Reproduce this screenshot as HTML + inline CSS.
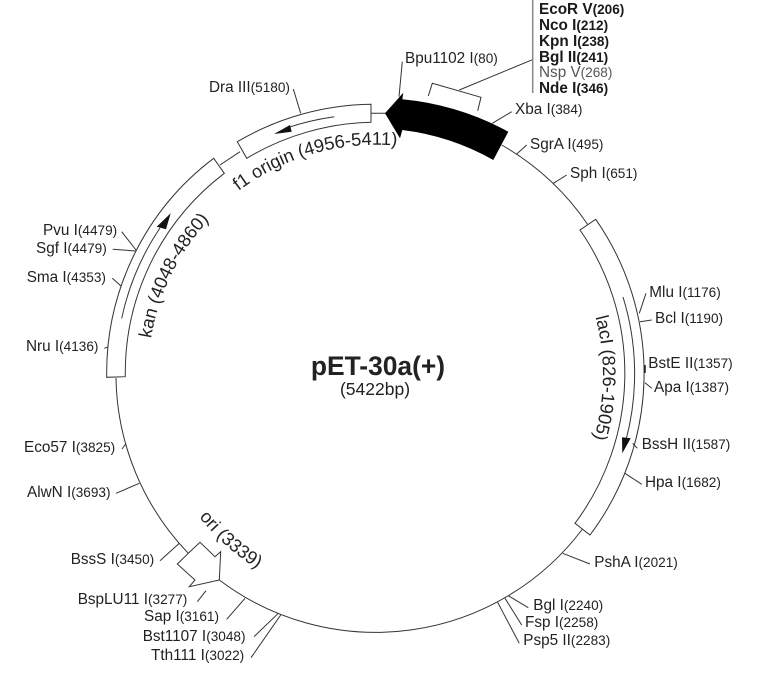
<!DOCTYPE html>
<html><head><meta charset="utf-8"><style>
html,body{margin:0;padding:0;background:#fff}
svg{display:block}
text{font-family:"Liberation Sans",Arial,sans-serif;fill:#222;font-size:15.3px}
tspan.n{font-size:13.6px}
.b{font-weight:bold;fill:#1a1a1a}
.l{stroke:#333;stroke-width:1;fill:none}
.c{font-size:18.3px}
</style></head><body>
<svg width="776" height="691" viewBox="0 0 776 691" xmlns="http://www.w3.org/2000/svg">
<defs>
<path id="pf1" d="M238.5 191A230 230 0 0 1 430 151"/>
<path id="pkan" d="M151 338.5A228 228 0 0 1 258 180"/>
<path id="plac" d="M595.5 317A227 227 0 0 1 577 480"/>
<path id="pori" d="M199 517A227 227 0 0 0 276 579"/>
</defs>
<!-- backbone -->
<path class="l" d="M116 378A259 259 0 0 0 188.3 553.3"/>
<path class="l" d="M219.3 580A259 259 0 0 0 582.5 529"/>
<path class="l" d="M501.7 145A261 261 0 0 1 587.8 224.6"/>
<path class="l" d="M220 165L240 151.7M371 113.3H386"/>
<!-- feature boxes -->
<path d="M237.3 141.7A271 271 0 0 1 371 104.3L371 122.3A252 252 0 0 0 246.7 158.3Z" fill="#fff" stroke="#333"/>
<path d="M106.7 377.3A269 269 0 0 1 213.7 158.3L224.3 173.3A251 251 0 0 0 125.3 376.7Z" fill="#fff" stroke="#333"/>
<path d="M595.7 219.3A269 269 0 0 1 590 535L575 523.3A251 251 0 0 0 580 230Z" fill="#fff" stroke="#333"/>
<!-- inner arrows -->
<path class="l" d="M334.3 116.7A259 259 0 0 0 285 128.5"/>
<path d="M274 134L290 125L291.7 131.7Z" fill="#111"/>
<path class="l" d="M121.7 318.3A259 259 0 0 1 160 228"/>
<path d="M170.7 213.3L156.7 226.7L166 229.3Z" fill="#111"/>
<path class="l" d="M623 297A259 259 0 0 1 626 440"/>
<path d="M622.3 453.3L622 437.3L630.7 438.3Z" fill="#111"/>
<!-- ori -->
<path d="M188.3 553.3L200 542.3L215 556.7L220.7 551.7L219.3 580L189.3 586.7L195 580L177.3 564Z" fill="#fff" stroke="#333"/>
<!-- black arrow -->
<path d="M385 113.3L403.3 92.7L402.3 99.3A277 277 0 0 1 508.3 131.7L493.3 160A245 245 0 0 0 402.3 130L400 138.3Z" fill="#000"/>
<!-- bracket -->
<path class="l" d="M428.3 96L432.3 83.3L481 97.3L477.7 110.7M459.3 90L533.3 59.3"/>
<path d="M532.7 0V93" stroke="#888" stroke-width="1.5" fill="none"/>
<!-- ticks -->
<path class="l" d="M399 96.7L402.3 61.7M492.3 123.3L511.7 111.7M516.7 154L526.7 145M553.3 183.3L566.7 175M300.7 113.3L293.3 89M136 250L121.7 231.7M136 251L112.7 249.3M121 286L112.3 278.3M104.3 348.3L108 347M122 449L126 443.5M116 493.3L139.3 483.3M160 560.7L179.3 543.3M197.3 601.7L206 590.7M226.7 619.3L245 598.3M254 636.7L278.3 613.3M251 657.7L280.7 615M562.7 553.3L590 564M508.3 595.7L528.3 607.7M505 598.3L521.7 625M497.3 601.7L519.3 643.3M625 473.3L641.7 484.3M632.7 443.3L637.3 448.3M645 382.7L651.7 388.3M640 321.7L651.7 320M639.3 313.3L646 293.3"/>
<path d="M645 365V373" stroke="#222" stroke-width="1.5"/>
<!-- labels -->
<text class="b" x="539" y="14">EcoR V<tspan class="n">(206)</tspan></text>
<text class="b" x="539" y="30">Nco I<tspan class="n">(212)</tspan></text>
<text class="b" x="539" y="46">Kpn I<tspan class="n">(238)</tspan></text>
<text class="b" x="539" y="62">Bgl II<tspan class="n">(241)</tspan></text>
<text x="539" y="77" style="fill:#555">Nsp V<tspan class="n">(268)</tspan></text>
<text class="b" x="539" y="93">Nde I<tspan class="n">(346)</tspan></text>
<text x="405" y="63">Bpu1102 I<tspan class="n">(80)</tspan></text>
<text x="515" y="114">Xba I<tspan class="n">(384)</tspan></text>
<text x="530" y="149">SgrA I<tspan class="n">(495)</tspan></text>
<text x="570" y="178">Sph I<tspan class="n">(651)</tspan></text>
<text x="649.3" y="297">Mlu I<tspan class="n">(1176)</tspan></text>
<text x="655" y="323">Bcl I<tspan class="n">(1190)</tspan></text>
<text x="648.3" y="368">BstE II<tspan class="n">(1357)</tspan></text>
<text x="654" y="392">Apa I<tspan class="n">(1387)</tspan></text>
<text x="641.7" y="449">BssH II<tspan class="n">(1587)</tspan></text>
<text x="645" y="487">Hpa I<tspan class="n">(1682)</tspan></text>
<text x="594.3" y="567">PshA I<tspan class="n">(2021)</tspan></text>
<text x="533.3" y="610">Bgl I<tspan class="n">(2240)</tspan></text>
<text x="525" y="627">Fsp I<tspan class="n">(2258)</tspan></text>
<text x="523.3" y="645">Psp5 II<tspan class="n">(2283)</tspan></text>
<text x="151" y="660">Tth111 I<tspan class="n">(3022)</tspan></text>
<text x="142.7" y="641">Bst1107 I<tspan class="n">(3048)</tspan></text>
<text x="144" y="621">Sap I<tspan class="n">(3161)</tspan></text>
<text x="77.7" y="604">BspLU11 I<tspan class="n">(3277)</tspan></text>
<text x="70.7" y="564">BssS I<tspan class="n">(3450)</tspan></text>
<text x="27" y="497">AlwN I<tspan class="n">(3693)</tspan></text>
<text x="24" y="452">Eco57 I<tspan class="n">(3825)</tspan></text>
<text x="26" y="351">Nru I<tspan class="n">(4136)</tspan></text>
<text x="26.7" y="282">Sma I<tspan class="n">(4353)</tspan></text>
<text x="36" y="253">Sgf I<tspan class="n">(4479)</tspan></text>
<text x="43" y="235">Pvu I<tspan class="n">(4479)</tspan></text>
<text x="209" y="92">Dra III<tspan class="n">(5180)</tspan></text>
<!-- curved labels -->
<text class="c"><textPath href="#pf1">f1 origin (4956-5411)</textPath></text>
<text class="c"><textPath href="#pkan">kan (4048-4860)</textPath></text>
<text class="c"><textPath href="#plac">lacI (826-1905)</textPath></text>
<text class="c"><textPath href="#pori">ori (3339)</textPath></text>
<!-- center -->
<text x="378" y="375" text-anchor="middle" style="font-size:26.4px;font-weight:bold">pET-30a(+)</text>
<text x="375" y="395" text-anchor="middle" style="font-size:17.5px">(5422bp)</text>
</svg>
</body></html>
